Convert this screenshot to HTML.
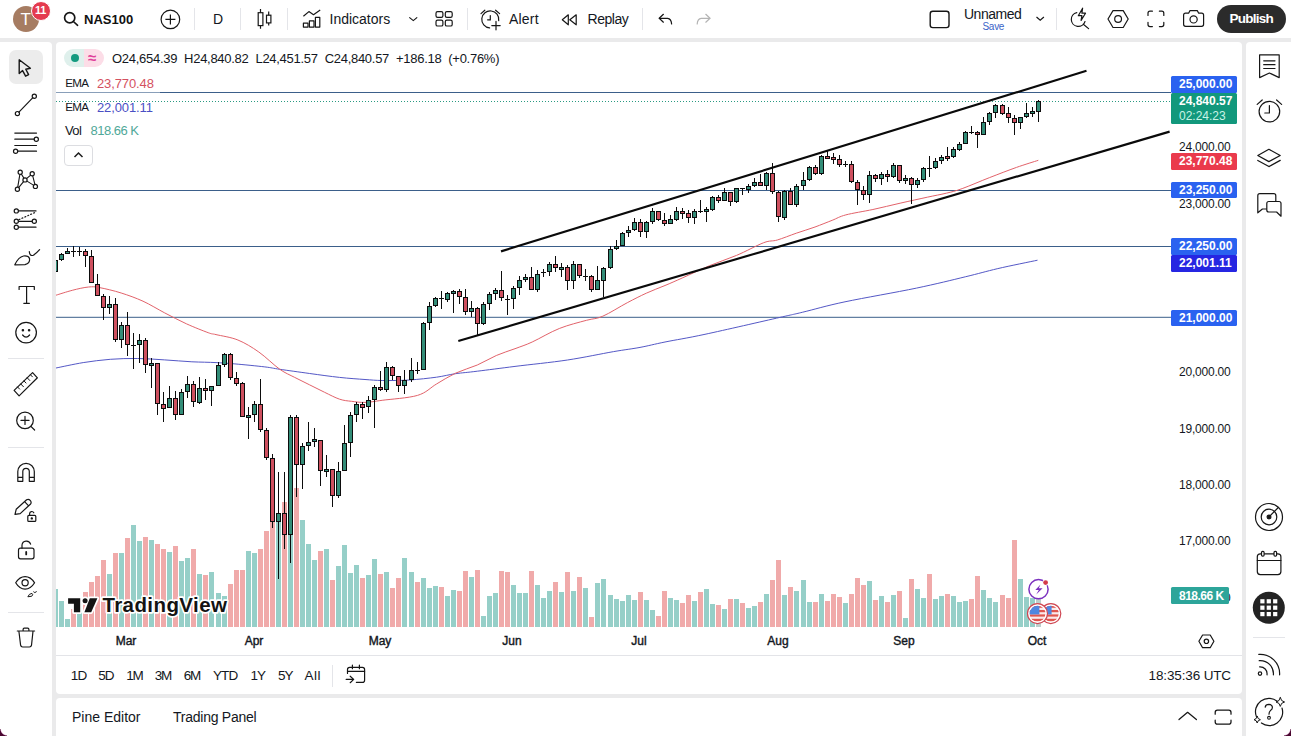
<!DOCTYPE html>
<html lang="en"><head><meta charset="utf-8"><title>NAS100 chart</title>
<style>
*{box-sizing:border-box;margin:0;padding:0}
html,body{width:1291px;height:736px;overflow:hidden}
body{background:#eaeaeb;font-family:"Liberation Sans","DejaVu Sans",sans-serif;color:#131722;position:relative;font-size:13px}
.abs{position:absolute}
.panel{position:absolute;background:#fff}
#top{left:0;top:0;width:1291px;height:38px}
#left{left:0;top:42px;width:52px;height:694px;border-top-right-radius:4px}
#main{left:56px;top:42px;width:1186px;height:652px;border-radius:4px}
#bottom{left:56px;top:698px;width:1186px;height:38px;border-radius:4px 4px 0 0}
#right{left:1246px;top:42px;width:45px;height:694px;border-top-left-radius:4px}
svg.chart{position:absolute;left:0;top:0}
.t{position:absolute;white-space:nowrap;line-height:1}
.sep{position:absolute;width:1px;background:#e4e5e9;top:8px;height:22px}
.ico{position:absolute;overflow:visible}
.ico *{vector-effect:none}
.lbl{position:absolute;left:1171px;width:66px;height:16.4px;border-radius:1.5px;color:#fff;font-weight:bold;font-size:12px;line-height:16.4px;padding-left:8px;white-space:nowrap}
.px{position:absolute;left:1179px;font-size:12px;letter-spacing:-0.22px;line-height:1;white-space:nowrap;color:#131722}
.mon{position:absolute;top:633.8px;font-size:12px;font-weight:normal;-webkit-text-stroke:0.4px #131722;line-height:14px;white-space:nowrap;transform:translateX(-50%);color:#131722}
.rng{position:absolute;top:668.6px;font-size:13.5px;letter-spacing:-0.9px;line-height:14px;white-space:nowrap;color:#131722}
</style></head><body>
<div class="panel" id="top"></div>
<div class="panel" id="left"></div>
<div class="panel" id="main"></div>
<div class="panel" id="bottom"></div>
<div class="panel" id="right"></div>
<svg class="chart" width="1291" height="736" viewBox="0 0 1291 736">
<defs><clipPath id="cp"><rect x="56" y="42" width="1114.5" height="590"/></clipPath></defs>
<g clip-path="url(#cp)">
<rect x="53" y="589" width="5" height="38" fill="#96cfc8"/>
<rect x="59" y="601" width="5" height="26" fill="#96cfc8"/>
<rect x="65" y="619" width="5" height="8" fill="#96cfc8"/>
<rect x="71" y="609" width="5" height="18" fill="#f0aaaa"/>
<rect x="77" y="602" width="5" height="25" fill="#96cfc8"/>
<rect x="83" y="592" width="5" height="35" fill="#f0aaaa"/>
<rect x="89" y="582" width="5" height="45" fill="#f0aaaa"/>
<rect x="95" y="576" width="5" height="51" fill="#f0aaaa"/>
<rect x="101" y="560" width="5" height="67" fill="#f0aaaa"/>
<rect x="107" y="574" width="5" height="53" fill="#96cfc8"/>
<rect x="113" y="553" width="5" height="74" fill="#f0aaaa"/>
<rect x="119" y="553" width="5" height="74" fill="#96cfc8"/>
<rect x="125" y="538" width="5" height="89" fill="#f0aaaa"/>
<rect x="131" y="525" width="5" height="102" fill="#96cfc8"/>
<rect x="137" y="541" width="5" height="86" fill="#96cfc8"/>
<rect x="143" y="537" width="5" height="90" fill="#f0aaaa"/>
<rect x="149" y="540" width="5" height="87" fill="#96cfc8"/>
<rect x="155" y="544" width="5" height="83" fill="#f0aaaa"/>
<rect x="161" y="549" width="5" height="78" fill="#f0aaaa"/>
<rect x="167" y="552" width="5" height="75" fill="#96cfc8"/>
<rect x="173" y="546" width="5" height="81" fill="#f0aaaa"/>
<rect x="179" y="561" width="5" height="66" fill="#96cfc8"/>
<rect x="185" y="558" width="5" height="69" fill="#96cfc8"/>
<rect x="191" y="549" width="5" height="78" fill="#f0aaaa"/>
<rect x="197" y="574" width="5" height="53" fill="#96cfc8"/>
<rect x="203" y="575" width="5" height="52" fill="#f0aaaa"/>
<rect x="209" y="572" width="5" height="55" fill="#96cfc8"/>
<rect x="216" y="593" width="5" height="34" fill="#96cfc8"/>
<rect x="222" y="596" width="5" height="31" fill="#96cfc8"/>
<rect x="228" y="584" width="5" height="43" fill="#f0aaaa"/>
<rect x="234" y="570" width="5" height="57" fill="#f0aaaa"/>
<rect x="240" y="570" width="5" height="57" fill="#f0aaaa"/>
<rect x="246" y="551" width="5" height="76" fill="#96cfc8"/>
<rect x="252" y="553" width="5" height="74" fill="#96cfc8"/>
<rect x="258" y="549" width="5" height="78" fill="#f0aaaa"/>
<rect x="264" y="531" width="5" height="96" fill="#f0aaaa"/>
<rect x="270" y="521" width="5" height="106" fill="#f0aaaa"/>
<rect x="276" y="521" width="5" height="106" fill="#96cfc8"/>
<rect x="282" y="502" width="5" height="125" fill="#f0aaaa"/>
<rect x="288" y="495" width="5" height="132" fill="#96cfc8"/>
<rect x="294" y="488" width="5" height="139" fill="#f0aaaa"/>
<rect x="300" y="520" width="5" height="107" fill="#96cfc8"/>
<rect x="306" y="544" width="5" height="83" fill="#96cfc8"/>
<rect x="312" y="560" width="5" height="67" fill="#96cfc8"/>
<rect x="318" y="551" width="5" height="76" fill="#f0aaaa"/>
<rect x="324" y="549" width="5" height="78" fill="#96cfc8"/>
<rect x="330" y="580" width="5" height="47" fill="#f0aaaa"/>
<rect x="336" y="566" width="5" height="61" fill="#96cfc8"/>
<rect x="342" y="545" width="5" height="82" fill="#96cfc8"/>
<rect x="348" y="573" width="5" height="54" fill="#96cfc8"/>
<rect x="354" y="565" width="5" height="62" fill="#96cfc8"/>
<rect x="360" y="578" width="5" height="49" fill="#f0aaaa"/>
<rect x="366" y="575" width="5" height="52" fill="#96cfc8"/>
<rect x="372" y="559" width="5" height="68" fill="#96cfc8"/>
<rect x="378" y="574" width="5" height="53" fill="#f0aaaa"/>
<rect x="384" y="572" width="5" height="55" fill="#96cfc8"/>
<rect x="390" y="588" width="5" height="39" fill="#f0aaaa"/>
<rect x="396" y="578" width="5" height="49" fill="#f0aaaa"/>
<rect x="402" y="558" width="5" height="69" fill="#96cfc8"/>
<rect x="409" y="572" width="5" height="55" fill="#96cfc8"/>
<rect x="415" y="582" width="5" height="45" fill="#f0aaaa"/>
<rect x="421" y="578" width="5" height="49" fill="#96cfc8"/>
<rect x="427" y="588" width="5" height="39" fill="#96cfc8"/>
<rect x="433" y="586" width="5" height="41" fill="#96cfc8"/>
<rect x="439" y="587" width="5" height="40" fill="#f0aaaa"/>
<rect x="445" y="596" width="5" height="31" fill="#96cfc8"/>
<rect x="451" y="590" width="5" height="37" fill="#96cfc8"/>
<rect x="457" y="591" width="5" height="36" fill="#f0aaaa"/>
<rect x="463" y="571" width="5" height="56" fill="#f0aaaa"/>
<rect x="469" y="577" width="5" height="50" fill="#96cfc8"/>
<rect x="475" y="570" width="5" height="57" fill="#f0aaaa"/>
<rect x="481" y="616" width="5" height="11" fill="#96cfc8"/>
<rect x="487" y="596" width="5" height="31" fill="#96cfc8"/>
<rect x="493" y="593" width="5" height="34" fill="#96cfc8"/>
<rect x="499" y="571" width="5" height="56" fill="#f0aaaa"/>
<rect x="505" y="572" width="5" height="55" fill="#f0aaaa"/>
<rect x="511" y="585" width="5" height="42" fill="#96cfc8"/>
<rect x="517" y="593" width="5" height="34" fill="#96cfc8"/>
<rect x="523" y="593" width="5" height="34" fill="#96cfc8"/>
<rect x="529" y="571" width="5" height="56" fill="#f0aaaa"/>
<rect x="535" y="585" width="5" height="42" fill="#96cfc8"/>
<rect x="541" y="598" width="5" height="29" fill="#96cfc8"/>
<rect x="547" y="591" width="5" height="36" fill="#96cfc8"/>
<rect x="553" y="582" width="5" height="45" fill="#f0aaaa"/>
<rect x="559" y="592" width="5" height="35" fill="#96cfc8"/>
<rect x="565" y="572" width="5" height="55" fill="#f0aaaa"/>
<rect x="571" y="591" width="5" height="36" fill="#96cfc8"/>
<rect x="577" y="577" width="5" height="50" fill="#f0aaaa"/>
<rect x="583" y="588" width="5" height="39" fill="#96cfc8"/>
<rect x="589" y="617" width="5" height="10" fill="#f0aaaa"/>
<rect x="595" y="583" width="5" height="44" fill="#96cfc8"/>
<rect x="601" y="579" width="5" height="48" fill="#96cfc8"/>
<rect x="608" y="595" width="5" height="32" fill="#96cfc8"/>
<rect x="614" y="599" width="5" height="28" fill="#96cfc8"/>
<rect x="620" y="601" width="5" height="26" fill="#96cfc8"/>
<rect x="626" y="595" width="5" height="32" fill="#96cfc8"/>
<rect x="632" y="600" width="5" height="27" fill="#96cfc8"/>
<rect x="638" y="592" width="5" height="35" fill="#f0aaaa"/>
<rect x="644" y="600" width="5" height="27" fill="#96cfc8"/>
<rect x="650" y="610" width="5" height="17" fill="#96cfc8"/>
<rect x="656" y="616" width="5" height="11" fill="#f0aaaa"/>
<rect x="662" y="591" width="5" height="36" fill="#f0aaaa"/>
<rect x="668" y="598" width="5" height="29" fill="#96cfc8"/>
<rect x="674" y="600" width="5" height="27" fill="#96cfc8"/>
<rect x="680" y="603" width="5" height="24" fill="#f0aaaa"/>
<rect x="686" y="595" width="5" height="32" fill="#f0aaaa"/>
<rect x="692" y="601" width="5" height="26" fill="#96cfc8"/>
<rect x="698" y="592" width="5" height="35" fill="#f0aaaa"/>
<rect x="704" y="589" width="5" height="38" fill="#96cfc8"/>
<rect x="710" y="604" width="5" height="23" fill="#96cfc8"/>
<rect x="716" y="605" width="5" height="22" fill="#f0aaaa"/>
<rect x="722" y="609" width="5" height="18" fill="#96cfc8"/>
<rect x="728" y="599" width="5" height="28" fill="#f0aaaa"/>
<rect x="734" y="599" width="5" height="28" fill="#96cfc8"/>
<rect x="740" y="603" width="5" height="24" fill="#f0aaaa"/>
<rect x="746" y="608" width="5" height="19" fill="#96cfc8"/>
<rect x="752" y="606" width="5" height="21" fill="#96cfc8"/>
<rect x="758" y="602" width="5" height="25" fill="#f0aaaa"/>
<rect x="764" y="594" width="5" height="33" fill="#96cfc8"/>
<rect x="770" y="580" width="5" height="47" fill="#f0aaaa"/>
<rect x="776" y="560" width="5" height="67" fill="#f0aaaa"/>
<rect x="782" y="595" width="5" height="32" fill="#96cfc8"/>
<rect x="788" y="587" width="5" height="40" fill="#f0aaaa"/>
<rect x="794" y="591" width="5" height="36" fill="#96cfc8"/>
<rect x="801" y="580" width="5" height="47" fill="#96cfc8"/>
<rect x="807" y="602" width="5" height="25" fill="#96cfc8"/>
<rect x="813" y="602" width="5" height="25" fill="#f0aaaa"/>
<rect x="819" y="594" width="5" height="33" fill="#96cfc8"/>
<rect x="825" y="601" width="5" height="26" fill="#f0aaaa"/>
<rect x="831" y="594" width="5" height="33" fill="#f0aaaa"/>
<rect x="837" y="597" width="5" height="30" fill="#f0aaaa"/>
<rect x="843" y="603" width="5" height="24" fill="#96cfc8"/>
<rect x="849" y="594" width="5" height="33" fill="#f0aaaa"/>
<rect x="855" y="578" width="5" height="49" fill="#f0aaaa"/>
<rect x="861" y="585" width="5" height="42" fill="#f0aaaa"/>
<rect x="867" y="581" width="5" height="46" fill="#96cfc8"/>
<rect x="873" y="600" width="5" height="27" fill="#f0aaaa"/>
<rect x="879" y="596" width="5" height="31" fill="#96cfc8"/>
<rect x="885" y="602" width="5" height="25" fill="#f0aaaa"/>
<rect x="891" y="595" width="5" height="32" fill="#96cfc8"/>
<rect x="897" y="591" width="5" height="36" fill="#f0aaaa"/>
<rect x="903" y="618" width="5" height="9" fill="#96cfc8"/>
<rect x="909" y="579" width="5" height="48" fill="#f0aaaa"/>
<rect x="915" y="589" width="5" height="38" fill="#96cfc8"/>
<rect x="921" y="598" width="5" height="29" fill="#96cfc8"/>
<rect x="927" y="574" width="5" height="53" fill="#f0aaaa"/>
<rect x="933" y="599" width="5" height="28" fill="#96cfc8"/>
<rect x="939" y="596" width="5" height="31" fill="#96cfc8"/>
<rect x="945" y="594" width="5" height="33" fill="#f0aaaa"/>
<rect x="951" y="596" width="5" height="31" fill="#96cfc8"/>
<rect x="957" y="602" width="5" height="25" fill="#96cfc8"/>
<rect x="963" y="601" width="5" height="26" fill="#96cfc8"/>
<rect x="969" y="599" width="5" height="28" fill="#f0aaaa"/>
<rect x="975" y="576" width="5" height="51" fill="#f0aaaa"/>
<rect x="981" y="590" width="5" height="37" fill="#96cfc8"/>
<rect x="987" y="598" width="5" height="29" fill="#96cfc8"/>
<rect x="993" y="602" width="5" height="25" fill="#96cfc8"/>
<rect x="1000" y="595" width="5" height="32" fill="#f0aaaa"/>
<rect x="1006" y="598" width="5" height="29" fill="#f0aaaa"/>
<rect x="1012" y="540" width="5" height="87" fill="#f0aaaa"/>
<rect x="1018" y="579" width="5" height="48" fill="#96cfc8"/>
<rect x="1024" y="597" width="5" height="30" fill="#96cfc8"/>
<rect x="1030" y="598" width="5" height="29" fill="#96cfc8"/>
<rect x="1036" y="596" width="5" height="31" fill="#bccfcc"/>
</g>
<line x1="56" x2="1171" y1="92.5" y2="92.5" stroke="#3b5f8a" stroke-width="1"/>
<line x1="56" x2="1171" y1="190.5" y2="190.5" stroke="#3b5f8a" stroke-width="1"/>
<line x1="56" x2="1171" y1="246.5" y2="246.5" stroke="#3b5f8a" stroke-width="1"/>
<line x1="56" x2="1171" y1="317.3" y2="317.3" stroke="#3b5f8a" stroke-width="1"/>
<line x1="56" x2="1171" y1="101.5" y2="101.5" stroke="#2a9a82" stroke-width="1" stroke-dasharray="1 2"/>
<path d="M56.0 368.0 C60.5 367.1 74.2 364.1 83.2 362.6 C92.2 361.2 101.2 360.0 110.3 359.3 C119.3 358.6 128.4 358.4 137.5 358.5 C146.6 358.6 155.6 359.3 164.7 359.9 C173.8 360.4 183.3 361.4 191.9 361.8 C200.5 362.2 208.8 362.2 216.0 362.6 C223.2 363.0 226.8 363.2 234.9 363.9 C243.0 364.6 257.3 366.0 264.8 366.9 C272.3 367.8 272.3 368.2 279.8 369.3 C287.3 370.4 299.7 372.1 309.7 373.5 C319.7 374.9 330.4 376.4 339.6 377.4 C348.8 378.4 357.9 379.0 365.0 379.5 C372.1 380.0 374.8 380.4 382.2 380.5 C389.6 380.6 400.2 380.6 409.3 380.0 C418.4 379.4 428.8 378.2 436.5 377.2 C444.2 376.1 448.7 374.7 455.5 373.7 C462.3 372.7 467.4 372.5 477.3 371.2 C487.2 370.0 500.0 368.3 515.0 366.4 C530.0 364.5 551.0 362.5 567.5 360.0 C584.0 357.5 601.6 353.7 613.7 351.6 C625.8 349.5 631.5 349.0 640.0 347.4 C648.5 345.8 654.2 344.2 665.0 342.0 C675.8 339.8 685.9 338.4 705.0 334.3 C724.1 330.2 763.6 321.1 779.9 317.4 C796.2 313.7 791.9 314.8 802.7 312.2 C813.6 309.6 826.0 305.8 845.0 301.8 C864.0 297.8 896.5 292.3 916.5 288.1 C936.5 283.9 951.8 280.1 965.3 276.8 C978.8 273.6 985.8 271.4 997.8 268.6 C1009.8 265.8 1030.9 261.6 1037.5 260.2" fill="none" stroke="#5458c6" stroke-width="1" stroke-linejoin="round"/>
<path d="M56.0 295.2 C58.7 294.4 66.9 291.7 72.3 290.3 C77.7 288.9 84.1 287.4 88.6 287.0 C93.1 286.6 94.1 286.6 99.5 287.6 C104.9 288.6 114.0 290.7 121.2 293.0 C128.4 295.3 135.8 297.9 143.0 301.2 C150.2 304.5 157.5 309.1 164.7 312.9 C171.9 316.7 179.2 320.4 186.4 323.8 C193.7 327.1 203.3 330.9 208.2 332.7 C213.1 334.5 211.1 333.4 216.0 334.6 C220.9 335.8 230.8 337.1 237.9 340.0 C245.0 342.9 251.8 347.1 258.8 352.0 C265.8 356.9 273.8 365.1 279.8 369.3 C285.8 373.5 289.7 374.8 294.7 377.4 C299.7 380.0 304.7 382.4 309.7 384.9 C314.7 387.4 319.6 389.9 324.6 392.3 C329.6 394.7 335.1 397.7 339.6 399.2 C344.1 400.7 347.3 400.8 351.5 401.3 C355.7 401.8 359.9 402.6 365.0 402.4 C370.1 402.2 373.4 401.5 382.2 400.3 C390.9 399.1 408.4 398.1 417.5 395.4 C426.6 392.7 430.2 387.7 436.5 384.0 C442.8 380.3 448.7 376.4 455.5 373.2 C462.3 370.0 470.5 367.9 477.3 365.0 C484.1 362.1 490.0 358.2 496.3 355.5 C502.6 352.8 509.0 350.9 515.0 348.7 C521.0 346.4 524.8 345.4 532.2 342.0 C539.6 338.6 550.2 332.1 559.3 328.5 C568.3 324.9 579.2 322.3 586.5 320.3 C593.8 318.3 596.0 319.2 602.8 316.2 C609.6 313.3 620.0 306.5 627.3 302.7 C634.5 298.9 640.0 296.1 646.3 293.2 C652.6 290.3 659.0 288.0 665.0 285.5 C671.0 283.0 674.8 281.3 682.2 278.0 C689.6 274.7 700.2 269.6 709.3 265.8 C718.3 262.0 727.4 259.2 736.5 255.4 C745.6 251.6 756.9 245.3 763.7 242.7 C770.5 240.1 771.9 241.6 777.3 240.0 C782.7 238.4 790.0 235.4 796.3 233.2 C802.6 231.0 809.0 229.2 815.0 227.0 C821.0 224.8 827.1 222.3 832.2 220.3 C837.3 218.3 839.0 216.7 845.8 214.9 C852.6 213.1 863.8 211.4 872.9 209.5 C882.0 207.6 891.0 205.2 900.1 203.2 C909.2 201.1 919.6 198.9 927.3 197.2 C935.0 195.5 940.5 194.6 946.3 193.2 C952.1 191.8 955.0 191.2 962.2 188.6 C969.4 186.0 980.2 181.2 989.3 177.7 C998.3 174.2 1008.3 170.3 1016.5 167.4 C1024.7 164.5 1034.7 161.5 1038.3 160.3" fill="none" stroke="#e2626a" stroke-width="1" stroke-linejoin="round"/>
<g clip-path="url(#cp)">
<rect x="55" y="260" width="1" height="12" fill="#0c0c0c"/>
<rect x="53" y="260" width="5" height="12" fill="#0c0c0c"/>
<rect x="54" y="261" width="3" height="10" fill="#338d78"/>
<rect x="61" y="253" width="1" height="8" fill="#0c0c0c"/>
<rect x="59" y="254" width="5" height="6" fill="#0c0c0c"/>
<rect x="60" y="255" width="3" height="4" fill="#338d78"/>
<rect x="67" y="248" width="1" height="6" fill="#0c0c0c"/>
<rect x="65" y="251" width="5" height="3" fill="#0c0c0c"/>
<rect x="66" y="252" width="3" height="1" fill="#338d78"/>
<rect x="73" y="246" width="1" height="11" fill="#0c0c0c"/>
<rect x="71" y="251" width="5" height="1" fill="#0c0c0c"/>
<rect x="79" y="247" width="1" height="9" fill="#0c0c0c"/>
<rect x="77" y="251" width="5" height="1" fill="#0c0c0c"/>
<rect x="85" y="249" width="1" height="18" fill="#0c0c0c"/>
<rect x="83" y="251" width="5" height="5" fill="#0c0c0c"/>
<rect x="84" y="252" width="3" height="3" fill="#ce505f"/>
<rect x="91" y="250" width="1" height="33" fill="#0c0c0c"/>
<rect x="89" y="256" width="5" height="27" fill="#0c0c0c"/>
<rect x="90" y="257" width="3" height="25" fill="#ce505f"/>
<rect x="97" y="274" width="1" height="22" fill="#0c0c0c"/>
<rect x="95" y="284" width="5" height="12" fill="#0c0c0c"/>
<rect x="96" y="285" width="3" height="10" fill="#ce505f"/>
<rect x="103" y="294" width="1" height="26" fill="#0c0c0c"/>
<rect x="101" y="296" width="5" height="12" fill="#0c0c0c"/>
<rect x="102" y="297" width="3" height="10" fill="#ce505f"/>
<rect x="109" y="296" width="1" height="18" fill="#0c0c0c"/>
<rect x="107" y="304" width="5" height="4" fill="#0c0c0c"/>
<rect x="108" y="305" width="3" height="2" fill="#338d78"/>
<rect x="115" y="298" width="1" height="44" fill="#0c0c0c"/>
<rect x="113" y="304" width="5" height="36" fill="#0c0c0c"/>
<rect x="114" y="305" width="3" height="34" fill="#ce505f"/>
<rect x="121" y="322" width="1" height="26" fill="#0c0c0c"/>
<rect x="119" y="325" width="5" height="15" fill="#0c0c0c"/>
<rect x="120" y="326" width="3" height="13" fill="#338d78"/>
<rect x="127" y="312" width="1" height="44" fill="#0c0c0c"/>
<rect x="125" y="325" width="5" height="20" fill="#0c0c0c"/>
<rect x="126" y="326" width="3" height="18" fill="#ce505f"/>
<rect x="133" y="333" width="1" height="36" fill="#0c0c0c"/>
<rect x="131" y="345" width="5" height="1" fill="#0c0c0c"/>
<rect x="139" y="334" width="1" height="29" fill="#0c0c0c"/>
<rect x="137" y="340" width="5" height="5" fill="#0c0c0c"/>
<rect x="138" y="341" width="3" height="3" fill="#338d78"/>
<rect x="145" y="338" width="1" height="35" fill="#0c0c0c"/>
<rect x="143" y="340" width="5" height="25" fill="#0c0c0c"/>
<rect x="144" y="341" width="3" height="23" fill="#ce505f"/>
<rect x="151" y="358" width="1" height="30" fill="#0c0c0c"/>
<rect x="149" y="363" width="5" height="3" fill="#0c0c0c"/>
<rect x="150" y="364" width="3" height="1" fill="#338d78"/>
<rect x="157" y="363" width="1" height="52" fill="#0c0c0c"/>
<rect x="155" y="363" width="5" height="41" fill="#0c0c0c"/>
<rect x="156" y="364" width="3" height="39" fill="#ce505f"/>
<rect x="163" y="392" width="1" height="30" fill="#0c0c0c"/>
<rect x="161" y="404" width="5" height="5" fill="#0c0c0c"/>
<rect x="162" y="405" width="3" height="3" fill="#ce505f"/>
<rect x="169" y="386" width="1" height="22" fill="#0c0c0c"/>
<rect x="167" y="398" width="5" height="10" fill="#0c0c0c"/>
<rect x="168" y="399" width="3" height="8" fill="#338d78"/>
<rect x="175" y="391" width="1" height="29" fill="#0c0c0c"/>
<rect x="173" y="398" width="5" height="17" fill="#0c0c0c"/>
<rect x="174" y="399" width="3" height="15" fill="#ce505f"/>
<rect x="181" y="389" width="1" height="26" fill="#0c0c0c"/>
<rect x="179" y="392" width="5" height="23" fill="#0c0c0c"/>
<rect x="180" y="393" width="3" height="21" fill="#338d78"/>
<rect x="187" y="376" width="1" height="22" fill="#0c0c0c"/>
<rect x="185" y="384" width="5" height="8" fill="#0c0c0c"/>
<rect x="186" y="385" width="3" height="6" fill="#338d78"/>
<rect x="193" y="381" width="1" height="26" fill="#0c0c0c"/>
<rect x="191" y="384" width="5" height="18" fill="#0c0c0c"/>
<rect x="192" y="385" width="3" height="16" fill="#ce505f"/>
<rect x="199" y="377" width="1" height="27" fill="#0c0c0c"/>
<rect x="197" y="388" width="5" height="15" fill="#0c0c0c"/>
<rect x="198" y="389" width="3" height="13" fill="#338d78"/>
<rect x="205" y="379" width="1" height="21" fill="#0c0c0c"/>
<rect x="203" y="388" width="5" height="3" fill="#0c0c0c"/>
<rect x="204" y="389" width="3" height="1" fill="#ce505f"/>
<rect x="211" y="386" width="1" height="20" fill="#0c0c0c"/>
<rect x="209" y="386" width="5" height="5" fill="#0c0c0c"/>
<rect x="210" y="387" width="3" height="3" fill="#338d78"/>
<rect x="218" y="362" width="1" height="24" fill="#0c0c0c"/>
<rect x="216" y="365" width="5" height="21" fill="#0c0c0c"/>
<rect x="217" y="366" width="3" height="19" fill="#338d78"/>
<rect x="224" y="353" width="1" height="14" fill="#0c0c0c"/>
<rect x="222" y="354" width="5" height="11" fill="#0c0c0c"/>
<rect x="223" y="355" width="3" height="9" fill="#338d78"/>
<rect x="230" y="353" width="1" height="27" fill="#0c0c0c"/>
<rect x="228" y="354" width="5" height="24" fill="#0c0c0c"/>
<rect x="229" y="355" width="3" height="22" fill="#ce505f"/>
<rect x="236" y="372" width="1" height="14" fill="#0c0c0c"/>
<rect x="234" y="378" width="5" height="6" fill="#0c0c0c"/>
<rect x="235" y="379" width="3" height="4" fill="#ce505f"/>
<rect x="242" y="382" width="1" height="35" fill="#0c0c0c"/>
<rect x="240" y="383" width="5" height="34" fill="#0c0c0c"/>
<rect x="241" y="384" width="3" height="32" fill="#ce505f"/>
<rect x="248" y="407" width="1" height="32" fill="#0c0c0c"/>
<rect x="246" y="415" width="5" height="3" fill="#0c0c0c"/>
<rect x="247" y="416" width="3" height="1" fill="#338d78"/>
<rect x="254" y="401" width="1" height="21" fill="#0c0c0c"/>
<rect x="252" y="404" width="5" height="11" fill="#0c0c0c"/>
<rect x="253" y="405" width="3" height="9" fill="#338d78"/>
<rect x="260" y="379" width="1" height="53" fill="#0c0c0c"/>
<rect x="258" y="404" width="5" height="26" fill="#0c0c0c"/>
<rect x="259" y="405" width="3" height="24" fill="#ce505f"/>
<rect x="266" y="428" width="1" height="32" fill="#0c0c0c"/>
<rect x="264" y="430" width="5" height="28" fill="#0c0c0c"/>
<rect x="265" y="431" width="3" height="26" fill="#ce505f"/>
<rect x="272" y="454" width="1" height="74" fill="#0c0c0c"/>
<rect x="270" y="458" width="5" height="64" fill="#0c0c0c"/>
<rect x="271" y="459" width="3" height="62" fill="#ce505f"/>
<rect x="278" y="472" width="1" height="107" fill="#0c0c0c"/>
<rect x="276" y="513" width="5" height="9" fill="#0c0c0c"/>
<rect x="277" y="514" width="3" height="7" fill="#338d78"/>
<rect x="284" y="472" width="1" height="77" fill="#0c0c0c"/>
<rect x="282" y="513" width="5" height="22" fill="#0c0c0c"/>
<rect x="283" y="514" width="3" height="20" fill="#ce505f"/>
<rect x="290" y="415" width="1" height="148" fill="#0c0c0c"/>
<rect x="288" y="417" width="5" height="118" fill="#0c0c0c"/>
<rect x="289" y="418" width="3" height="116" fill="#338d78"/>
<rect x="296" y="415" width="1" height="82" fill="#0c0c0c"/>
<rect x="294" y="417" width="5" height="48" fill="#0c0c0c"/>
<rect x="295" y="418" width="3" height="46" fill="#ce505f"/>
<rect x="302" y="443" width="1" height="46" fill="#0c0c0c"/>
<rect x="300" y="446" width="5" height="19" fill="#0c0c0c"/>
<rect x="301" y="447" width="3" height="17" fill="#338d78"/>
<rect x="308" y="422" width="1" height="29" fill="#0c0c0c"/>
<rect x="306" y="442" width="5" height="4" fill="#0c0c0c"/>
<rect x="307" y="443" width="3" height="2" fill="#338d78"/>
<rect x="314" y="428" width="1" height="19" fill="#0c0c0c"/>
<rect x="312" y="439" width="5" height="3" fill="#0c0c0c"/>
<rect x="313" y="440" width="3" height="1" fill="#338d78"/>
<rect x="320" y="440" width="1" height="46" fill="#0c0c0c"/>
<rect x="318" y="440" width="5" height="31" fill="#0c0c0c"/>
<rect x="319" y="441" width="3" height="29" fill="#ce505f"/>
<rect x="326" y="455" width="1" height="22" fill="#0c0c0c"/>
<rect x="324" y="469" width="5" height="3" fill="#0c0c0c"/>
<rect x="325" y="470" width="3" height="1" fill="#338d78"/>
<rect x="332" y="469" width="1" height="38" fill="#0c0c0c"/>
<rect x="330" y="469" width="5" height="27" fill="#0c0c0c"/>
<rect x="331" y="470" width="3" height="25" fill="#ce505f"/>
<rect x="338" y="462" width="1" height="36" fill="#0c0c0c"/>
<rect x="336" y="471" width="5" height="25" fill="#0c0c0c"/>
<rect x="337" y="472" width="3" height="23" fill="#338d78"/>
<rect x="344" y="425" width="1" height="46" fill="#0c0c0c"/>
<rect x="342" y="443" width="5" height="28" fill="#0c0c0c"/>
<rect x="343" y="444" width="3" height="26" fill="#338d78"/>
<rect x="350" y="412" width="1" height="45" fill="#0c0c0c"/>
<rect x="348" y="415" width="5" height="28" fill="#0c0c0c"/>
<rect x="349" y="416" width="3" height="26" fill="#338d78"/>
<rect x="356" y="402" width="1" height="20" fill="#0c0c0c"/>
<rect x="354" y="404" width="5" height="11" fill="#0c0c0c"/>
<rect x="355" y="405" width="3" height="9" fill="#338d78"/>
<rect x="362" y="402" width="1" height="17" fill="#0c0c0c"/>
<rect x="360" y="404" width="5" height="4" fill="#0c0c0c"/>
<rect x="361" y="405" width="3" height="2" fill="#ce505f"/>
<rect x="368" y="396" width="1" height="17" fill="#0c0c0c"/>
<rect x="366" y="400" width="5" height="7" fill="#0c0c0c"/>
<rect x="367" y="401" width="3" height="5" fill="#338d78"/>
<rect x="374" y="385" width="1" height="43" fill="#0c0c0c"/>
<rect x="372" y="387" width="5" height="13" fill="#0c0c0c"/>
<rect x="373" y="388" width="3" height="11" fill="#338d78"/>
<rect x="380" y="371" width="1" height="20" fill="#0c0c0c"/>
<rect x="378" y="387" width="5" height="3" fill="#0c0c0c"/>
<rect x="379" y="388" width="3" height="1" fill="#ce505f"/>
<rect x="386" y="362" width="1" height="30" fill="#0c0c0c"/>
<rect x="384" y="367" width="5" height="23" fill="#0c0c0c"/>
<rect x="385" y="368" width="3" height="21" fill="#338d78"/>
<rect x="392" y="366" width="1" height="14" fill="#0c0c0c"/>
<rect x="390" y="367" width="5" height="9" fill="#0c0c0c"/>
<rect x="391" y="368" width="3" height="7" fill="#ce505f"/>
<rect x="398" y="376" width="1" height="16" fill="#0c0c0c"/>
<rect x="396" y="376" width="5" height="10" fill="#0c0c0c"/>
<rect x="397" y="377" width="3" height="8" fill="#ce505f"/>
<rect x="404" y="370" width="1" height="24" fill="#0c0c0c"/>
<rect x="402" y="380" width="5" height="6" fill="#0c0c0c"/>
<rect x="403" y="381" width="3" height="4" fill="#338d78"/>
<rect x="411" y="358" width="1" height="24" fill="#0c0c0c"/>
<rect x="409" y="370" width="5" height="10" fill="#0c0c0c"/>
<rect x="410" y="371" width="3" height="8" fill="#338d78"/>
<rect x="417" y="362" width="1" height="12" fill="#0c0c0c"/>
<rect x="415" y="370" width="5" height="1" fill="#0c0c0c"/>
<rect x="423" y="322" width="1" height="48" fill="#0c0c0c"/>
<rect x="421" y="323" width="5" height="47" fill="#0c0c0c"/>
<rect x="422" y="324" width="3" height="45" fill="#338d78"/>
<rect x="429" y="302" width="1" height="28" fill="#0c0c0c"/>
<rect x="427" y="306" width="5" height="17" fill="#0c0c0c"/>
<rect x="428" y="307" width="3" height="15" fill="#338d78"/>
<rect x="435" y="297" width="1" height="10" fill="#0c0c0c"/>
<rect x="433" y="298" width="5" height="8" fill="#0c0c0c"/>
<rect x="434" y="299" width="3" height="6" fill="#338d78"/>
<rect x="441" y="291" width="1" height="18" fill="#0c0c0c"/>
<rect x="439" y="298" width="5" height="1" fill="#0c0c0c"/>
<rect x="447" y="292" width="1" height="10" fill="#0c0c0c"/>
<rect x="445" y="293" width="5" height="7" fill="#0c0c0c"/>
<rect x="446" y="294" width="3" height="5" fill="#338d78"/>
<rect x="453" y="290" width="1" height="23" fill="#0c0c0c"/>
<rect x="451" y="291" width="5" height="3" fill="#0c0c0c"/>
<rect x="452" y="292" width="3" height="1" fill="#338d78"/>
<rect x="459" y="289" width="1" height="15" fill="#0c0c0c"/>
<rect x="457" y="291" width="5" height="6" fill="#0c0c0c"/>
<rect x="458" y="292" width="3" height="4" fill="#ce505f"/>
<rect x="465" y="289" width="1" height="26" fill="#0c0c0c"/>
<rect x="463" y="297" width="5" height="15" fill="#0c0c0c"/>
<rect x="464" y="298" width="3" height="13" fill="#ce505f"/>
<rect x="471" y="301" width="1" height="16" fill="#0c0c0c"/>
<rect x="469" y="308" width="5" height="4" fill="#0c0c0c"/>
<rect x="470" y="309" width="3" height="2" fill="#338d78"/>
<rect x="477" y="307" width="1" height="28" fill="#0c0c0c"/>
<rect x="475" y="308" width="5" height="16" fill="#0c0c0c"/>
<rect x="476" y="309" width="3" height="14" fill="#ce505f"/>
<rect x="483" y="302" width="1" height="23" fill="#0c0c0c"/>
<rect x="481" y="304" width="5" height="20" fill="#0c0c0c"/>
<rect x="482" y="305" width="3" height="18" fill="#338d78"/>
<rect x="489" y="292" width="1" height="18" fill="#0c0c0c"/>
<rect x="487" y="294" width="5" height="10" fill="#0c0c0c"/>
<rect x="488" y="295" width="3" height="8" fill="#338d78"/>
<rect x="495" y="288" width="1" height="12" fill="#0c0c0c"/>
<rect x="493" y="290" width="5" height="4" fill="#0c0c0c"/>
<rect x="494" y="291" width="3" height="2" fill="#338d78"/>
<rect x="501" y="271" width="1" height="30" fill="#0c0c0c"/>
<rect x="499" y="290" width="5" height="8" fill="#0c0c0c"/>
<rect x="500" y="291" width="3" height="6" fill="#ce505f"/>
<rect x="507" y="295" width="1" height="20" fill="#0c0c0c"/>
<rect x="505" y="299" width="5" height="1" fill="#0c0c0c"/>
<rect x="513" y="286" width="1" height="23" fill="#0c0c0c"/>
<rect x="511" y="288" width="5" height="11" fill="#0c0c0c"/>
<rect x="512" y="289" width="3" height="9" fill="#338d78"/>
<rect x="519" y="276" width="1" height="19" fill="#0c0c0c"/>
<rect x="517" y="280" width="5" height="8" fill="#0c0c0c"/>
<rect x="518" y="281" width="3" height="6" fill="#338d78"/>
<rect x="525" y="274" width="1" height="8" fill="#0c0c0c"/>
<rect x="523" y="277" width="5" height="3" fill="#0c0c0c"/>
<rect x="524" y="278" width="3" height="1" fill="#338d78"/>
<rect x="531" y="267" width="1" height="23" fill="#0c0c0c"/>
<rect x="529" y="277" width="5" height="13" fill="#0c0c0c"/>
<rect x="530" y="278" width="3" height="11" fill="#ce505f"/>
<rect x="537" y="270" width="1" height="22" fill="#0c0c0c"/>
<rect x="535" y="274" width="5" height="16" fill="#0c0c0c"/>
<rect x="536" y="275" width="3" height="14" fill="#338d78"/>
<rect x="543" y="269" width="1" height="8" fill="#0c0c0c"/>
<rect x="541" y="272" width="5" height="1" fill="#0c0c0c"/>
<rect x="549" y="262" width="1" height="14" fill="#0c0c0c"/>
<rect x="547" y="264" width="5" height="8" fill="#0c0c0c"/>
<rect x="548" y="265" width="3" height="6" fill="#338d78"/>
<rect x="555" y="256" width="1" height="16" fill="#0c0c0c"/>
<rect x="553" y="264" width="5" height="4" fill="#0c0c0c"/>
<rect x="554" y="265" width="3" height="2" fill="#ce505f"/>
<rect x="561" y="263" width="1" height="14" fill="#0c0c0c"/>
<rect x="559" y="267" width="5" height="3" fill="#0c0c0c"/>
<rect x="560" y="268" width="3" height="1" fill="#338d78"/>
<rect x="567" y="265" width="1" height="25" fill="#0c0c0c"/>
<rect x="565" y="267" width="5" height="14" fill="#0c0c0c"/>
<rect x="566" y="268" width="3" height="12" fill="#ce505f"/>
<rect x="573" y="261" width="1" height="28" fill="#0c0c0c"/>
<rect x="571" y="264" width="5" height="17" fill="#0c0c0c"/>
<rect x="572" y="265" width="3" height="15" fill="#338d78"/>
<rect x="579" y="264" width="1" height="14" fill="#0c0c0c"/>
<rect x="577" y="264" width="5" height="12" fill="#0c0c0c"/>
<rect x="578" y="265" width="3" height="10" fill="#ce505f"/>
<rect x="585" y="269" width="1" height="12" fill="#0c0c0c"/>
<rect x="583" y="276" width="5" height="1" fill="#0c0c0c"/>
<rect x="591" y="275" width="1" height="17" fill="#0c0c0c"/>
<rect x="589" y="276" width="5" height="14" fill="#0c0c0c"/>
<rect x="590" y="277" width="3" height="12" fill="#ce505f"/>
<rect x="597" y="266" width="1" height="24" fill="#0c0c0c"/>
<rect x="595" y="280" width="5" height="10" fill="#0c0c0c"/>
<rect x="596" y="281" width="3" height="8" fill="#338d78"/>
<rect x="603" y="267" width="1" height="30" fill="#0c0c0c"/>
<rect x="601" y="268" width="5" height="13" fill="#0c0c0c"/>
<rect x="602" y="269" width="3" height="11" fill="#338d78"/>
<rect x="610" y="246" width="1" height="23" fill="#0c0c0c"/>
<rect x="608" y="249" width="5" height="19" fill="#0c0c0c"/>
<rect x="609" y="250" width="3" height="17" fill="#338d78"/>
<rect x="616" y="240" width="1" height="10" fill="#0c0c0c"/>
<rect x="614" y="246" width="5" height="3" fill="#0c0c0c"/>
<rect x="615" y="247" width="3" height="1" fill="#338d78"/>
<rect x="622" y="232" width="1" height="14" fill="#0c0c0c"/>
<rect x="620" y="233" width="5" height="13" fill="#0c0c0c"/>
<rect x="621" y="234" width="3" height="11" fill="#338d78"/>
<rect x="628" y="226" width="1" height="11" fill="#0c0c0c"/>
<rect x="626" y="230" width="5" height="3" fill="#0c0c0c"/>
<rect x="627" y="231" width="3" height="1" fill="#338d78"/>
<rect x="634" y="218" width="1" height="13" fill="#0c0c0c"/>
<rect x="632" y="222" width="5" height="8" fill="#0c0c0c"/>
<rect x="633" y="223" width="3" height="6" fill="#338d78"/>
<rect x="640" y="219" width="1" height="18" fill="#0c0c0c"/>
<rect x="638" y="222" width="5" height="10" fill="#0c0c0c"/>
<rect x="639" y="223" width="3" height="8" fill="#ce505f"/>
<rect x="646" y="221" width="1" height="17" fill="#0c0c0c"/>
<rect x="644" y="222" width="5" height="10" fill="#0c0c0c"/>
<rect x="645" y="223" width="3" height="8" fill="#338d78"/>
<rect x="652" y="208" width="1" height="16" fill="#0c0c0c"/>
<rect x="650" y="211" width="5" height="11" fill="#0c0c0c"/>
<rect x="651" y="212" width="3" height="9" fill="#338d78"/>
<rect x="658" y="211" width="1" height="10" fill="#0c0c0c"/>
<rect x="656" y="211" width="5" height="9" fill="#0c0c0c"/>
<rect x="657" y="212" width="3" height="7" fill="#ce505f"/>
<rect x="664" y="213" width="1" height="13" fill="#0c0c0c"/>
<rect x="662" y="220" width="5" height="4" fill="#0c0c0c"/>
<rect x="663" y="221" width="3" height="2" fill="#ce505f"/>
<rect x="670" y="215" width="1" height="9" fill="#0c0c0c"/>
<rect x="668" y="219" width="5" height="5" fill="#0c0c0c"/>
<rect x="669" y="220" width="3" height="3" fill="#338d78"/>
<rect x="676" y="207" width="1" height="14" fill="#0c0c0c"/>
<rect x="674" y="211" width="5" height="9" fill="#0c0c0c"/>
<rect x="675" y="212" width="3" height="7" fill="#338d78"/>
<rect x="682" y="208" width="1" height="11" fill="#0c0c0c"/>
<rect x="680" y="211" width="5" height="3" fill="#0c0c0c"/>
<rect x="681" y="212" width="3" height="1" fill="#ce505f"/>
<rect x="688" y="210" width="1" height="13" fill="#0c0c0c"/>
<rect x="686" y="213" width="5" height="5" fill="#0c0c0c"/>
<rect x="687" y="214" width="3" height="3" fill="#ce505f"/>
<rect x="694" y="209" width="1" height="15" fill="#0c0c0c"/>
<rect x="692" y="211" width="5" height="7" fill="#0c0c0c"/>
<rect x="693" y="212" width="3" height="5" fill="#338d78"/>
<rect x="700" y="200" width="1" height="13" fill="#0c0c0c"/>
<rect x="698" y="211" width="5" height="1" fill="#0c0c0c"/>
<rect x="706" y="207" width="1" height="15" fill="#0c0c0c"/>
<rect x="704" y="209" width="5" height="3" fill="#0c0c0c"/>
<rect x="705" y="210" width="3" height="1" fill="#338d78"/>
<rect x="712" y="196" width="1" height="15" fill="#0c0c0c"/>
<rect x="710" y="197" width="5" height="13" fill="#0c0c0c"/>
<rect x="711" y="198" width="3" height="11" fill="#338d78"/>
<rect x="718" y="195" width="1" height="8" fill="#0c0c0c"/>
<rect x="716" y="197" width="5" height="4" fill="#0c0c0c"/>
<rect x="717" y="198" width="3" height="2" fill="#ce505f"/>
<rect x="724" y="188" width="1" height="13" fill="#0c0c0c"/>
<rect x="722" y="192" width="5" height="9" fill="#0c0c0c"/>
<rect x="723" y="193" width="3" height="7" fill="#338d78"/>
<rect x="730" y="192" width="1" height="14" fill="#0c0c0c"/>
<rect x="728" y="192" width="5" height="10" fill="#0c0c0c"/>
<rect x="729" y="193" width="3" height="8" fill="#ce505f"/>
<rect x="736" y="188" width="1" height="15" fill="#0c0c0c"/>
<rect x="734" y="188" width="5" height="14" fill="#0c0c0c"/>
<rect x="735" y="189" width="3" height="12" fill="#338d78"/>
<rect x="742" y="188" width="1" height="7" fill="#0c0c0c"/>
<rect x="740" y="188" width="5" height="1" fill="#0c0c0c"/>
<rect x="748" y="184" width="1" height="9" fill="#0c0c0c"/>
<rect x="746" y="186" width="5" height="4" fill="#0c0c0c"/>
<rect x="747" y="187" width="3" height="2" fill="#338d78"/>
<rect x="754" y="178" width="1" height="9" fill="#0c0c0c"/>
<rect x="752" y="182" width="5" height="4" fill="#0c0c0c"/>
<rect x="753" y="183" width="3" height="2" fill="#338d78"/>
<rect x="760" y="174" width="1" height="12" fill="#0c0c0c"/>
<rect x="758" y="182" width="5" height="4" fill="#0c0c0c"/>
<rect x="759" y="183" width="3" height="2" fill="#ce505f"/>
<rect x="766" y="172" width="1" height="18" fill="#0c0c0c"/>
<rect x="764" y="173" width="5" height="13" fill="#0c0c0c"/>
<rect x="765" y="174" width="3" height="11" fill="#338d78"/>
<rect x="772" y="163" width="1" height="31" fill="#0c0c0c"/>
<rect x="770" y="173" width="5" height="19" fill="#0c0c0c"/>
<rect x="771" y="174" width="3" height="17" fill="#ce505f"/>
<rect x="778" y="191" width="1" height="31" fill="#0c0c0c"/>
<rect x="776" y="192" width="5" height="25" fill="#0c0c0c"/>
<rect x="777" y="193" width="3" height="23" fill="#ce505f"/>
<rect x="784" y="190" width="1" height="30" fill="#0c0c0c"/>
<rect x="782" y="191" width="5" height="27" fill="#0c0c0c"/>
<rect x="783" y="192" width="3" height="25" fill="#338d78"/>
<rect x="790" y="188" width="1" height="17" fill="#0c0c0c"/>
<rect x="788" y="191" width="5" height="14" fill="#0c0c0c"/>
<rect x="789" y="192" width="3" height="12" fill="#ce505f"/>
<rect x="796" y="184" width="1" height="23" fill="#0c0c0c"/>
<rect x="794" y="186" width="5" height="19" fill="#0c0c0c"/>
<rect x="795" y="187" width="3" height="17" fill="#338d78"/>
<rect x="803" y="172" width="1" height="18" fill="#0c0c0c"/>
<rect x="801" y="180" width="5" height="6" fill="#0c0c0c"/>
<rect x="802" y="181" width="3" height="4" fill="#338d78"/>
<rect x="809" y="166" width="1" height="15" fill="#0c0c0c"/>
<rect x="807" y="167" width="5" height="13" fill="#0c0c0c"/>
<rect x="808" y="168" width="3" height="11" fill="#338d78"/>
<rect x="815" y="165" width="1" height="10" fill="#0c0c0c"/>
<rect x="813" y="167" width="5" height="7" fill="#0c0c0c"/>
<rect x="814" y="168" width="3" height="5" fill="#ce505f"/>
<rect x="821" y="155" width="1" height="20" fill="#0c0c0c"/>
<rect x="819" y="156" width="5" height="18" fill="#0c0c0c"/>
<rect x="820" y="157" width="3" height="16" fill="#338d78"/>
<rect x="827" y="150" width="1" height="9" fill="#0c0c0c"/>
<rect x="825" y="156" width="5" height="3" fill="#0c0c0c"/>
<rect x="826" y="157" width="3" height="1" fill="#ce505f"/>
<rect x="833" y="153" width="1" height="11" fill="#0c0c0c"/>
<rect x="831" y="157" width="5" height="3" fill="#0c0c0c"/>
<rect x="832" y="158" width="3" height="1" fill="#ce505f"/>
<rect x="839" y="155" width="1" height="12" fill="#0c0c0c"/>
<rect x="837" y="159" width="5" height="6" fill="#0c0c0c"/>
<rect x="838" y="160" width="3" height="4" fill="#ce505f"/>
<rect x="845" y="161" width="1" height="6" fill="#0c0c0c"/>
<rect x="843" y="164" width="5" height="1" fill="#0c0c0c"/>
<rect x="851" y="161" width="1" height="22" fill="#0c0c0c"/>
<rect x="849" y="164" width="5" height="18" fill="#0c0c0c"/>
<rect x="850" y="165" width="3" height="16" fill="#ce505f"/>
<rect x="857" y="180" width="1" height="25" fill="#0c0c0c"/>
<rect x="855" y="182" width="5" height="8" fill="#0c0c0c"/>
<rect x="856" y="183" width="3" height="6" fill="#ce505f"/>
<rect x="863" y="186" width="1" height="14" fill="#0c0c0c"/>
<rect x="861" y="190" width="5" height="5" fill="#0c0c0c"/>
<rect x="862" y="191" width="3" height="3" fill="#ce505f"/>
<rect x="869" y="171" width="1" height="32" fill="#0c0c0c"/>
<rect x="867" y="175" width="5" height="20" fill="#0c0c0c"/>
<rect x="868" y="176" width="3" height="18" fill="#338d78"/>
<rect x="875" y="174" width="1" height="8" fill="#0c0c0c"/>
<rect x="873" y="175" width="5" height="4" fill="#0c0c0c"/>
<rect x="874" y="176" width="3" height="2" fill="#ce505f"/>
<rect x="881" y="172" width="1" height="13" fill="#0c0c0c"/>
<rect x="879" y="174" width="5" height="5" fill="#0c0c0c"/>
<rect x="880" y="175" width="3" height="3" fill="#338d78"/>
<rect x="887" y="170" width="1" height="12" fill="#0c0c0c"/>
<rect x="885" y="174" width="5" height="3" fill="#0c0c0c"/>
<rect x="886" y="175" width="3" height="1" fill="#ce505f"/>
<rect x="893" y="163" width="1" height="15" fill="#0c0c0c"/>
<rect x="891" y="165" width="5" height="12" fill="#0c0c0c"/>
<rect x="892" y="166" width="3" height="10" fill="#338d78"/>
<rect x="899" y="165" width="1" height="18" fill="#0c0c0c"/>
<rect x="897" y="165" width="5" height="16" fill="#0c0c0c"/>
<rect x="898" y="166" width="3" height="14" fill="#ce505f"/>
<rect x="905" y="175" width="1" height="9" fill="#0c0c0c"/>
<rect x="903" y="178" width="5" height="3" fill="#0c0c0c"/>
<rect x="904" y="179" width="3" height="1" fill="#338d78"/>
<rect x="911" y="177" width="1" height="27" fill="#0c0c0c"/>
<rect x="909" y="178" width="5" height="7" fill="#0c0c0c"/>
<rect x="910" y="179" width="3" height="5" fill="#ce505f"/>
<rect x="917" y="178" width="1" height="10" fill="#0c0c0c"/>
<rect x="915" y="180" width="5" height="5" fill="#0c0c0c"/>
<rect x="916" y="181" width="3" height="3" fill="#338d78"/>
<rect x="923" y="167" width="1" height="15" fill="#0c0c0c"/>
<rect x="921" y="168" width="5" height="12" fill="#0c0c0c"/>
<rect x="922" y="169" width="3" height="10" fill="#338d78"/>
<rect x="929" y="156" width="1" height="21" fill="#0c0c0c"/>
<rect x="927" y="168" width="5" height="1" fill="#0c0c0c"/>
<rect x="935" y="158" width="1" height="11" fill="#0c0c0c"/>
<rect x="933" y="161" width="5" height="7" fill="#0c0c0c"/>
<rect x="934" y="162" width="3" height="5" fill="#338d78"/>
<rect x="941" y="155" width="1" height="9" fill="#0c0c0c"/>
<rect x="939" y="157" width="5" height="4" fill="#0c0c0c"/>
<rect x="940" y="158" width="3" height="2" fill="#338d78"/>
<rect x="947" y="147" width="1" height="14" fill="#0c0c0c"/>
<rect x="945" y="156" width="5" height="3" fill="#0c0c0c"/>
<rect x="946" y="157" width="3" height="1" fill="#ce505f"/>
<rect x="953" y="147" width="1" height="11" fill="#0c0c0c"/>
<rect x="951" y="149" width="5" height="8" fill="#0c0c0c"/>
<rect x="952" y="150" width="3" height="6" fill="#338d78"/>
<rect x="959" y="142" width="1" height="9" fill="#0c0c0c"/>
<rect x="957" y="144" width="5" height="6" fill="#0c0c0c"/>
<rect x="958" y="145" width="3" height="4" fill="#338d78"/>
<rect x="965" y="131" width="1" height="13" fill="#0c0c0c"/>
<rect x="963" y="132" width="5" height="12" fill="#0c0c0c"/>
<rect x="964" y="133" width="3" height="10" fill="#338d78"/>
<rect x="971" y="126" width="1" height="8" fill="#0c0c0c"/>
<rect x="969" y="132" width="5" height="1" fill="#0c0c0c"/>
<rect x="977" y="131" width="1" height="17" fill="#0c0c0c"/>
<rect x="975" y="132" width="5" height="3" fill="#0c0c0c"/>
<rect x="976" y="133" width="3" height="1" fill="#ce505f"/>
<rect x="983" y="117" width="1" height="18" fill="#0c0c0c"/>
<rect x="981" y="122" width="5" height="13" fill="#0c0c0c"/>
<rect x="982" y="123" width="3" height="11" fill="#338d78"/>
<rect x="989" y="112" width="1" height="13" fill="#0c0c0c"/>
<rect x="987" y="113" width="5" height="9" fill="#0c0c0c"/>
<rect x="988" y="114" width="3" height="7" fill="#338d78"/>
<rect x="995" y="104" width="1" height="14" fill="#0c0c0c"/>
<rect x="993" y="105" width="5" height="8" fill="#0c0c0c"/>
<rect x="994" y="106" width="3" height="6" fill="#338d78"/>
<rect x="1002" y="104" width="1" height="11" fill="#0c0c0c"/>
<rect x="1000" y="105" width="5" height="9" fill="#0c0c0c"/>
<rect x="1001" y="106" width="3" height="7" fill="#ce505f"/>
<rect x="1008" y="107" width="1" height="16" fill="#0c0c0c"/>
<rect x="1006" y="113" width="5" height="5" fill="#0c0c0c"/>
<rect x="1007" y="114" width="3" height="3" fill="#ce505f"/>
<rect x="1014" y="115" width="1" height="20" fill="#0c0c0c"/>
<rect x="1012" y="118" width="5" height="5" fill="#0c0c0c"/>
<rect x="1013" y="119" width="3" height="3" fill="#ce505f"/>
<rect x="1020" y="117" width="1" height="12" fill="#0c0c0c"/>
<rect x="1018" y="117" width="5" height="6" fill="#0c0c0c"/>
<rect x="1019" y="118" width="3" height="4" fill="#338d78"/>
<rect x="1026" y="103" width="1" height="15" fill="#0c0c0c"/>
<rect x="1024" y="113" width="5" height="4" fill="#0c0c0c"/>
<rect x="1025" y="114" width="3" height="2" fill="#338d78"/>
<rect x="1032" y="107" width="1" height="10" fill="#0c0c0c"/>
<rect x="1030" y="111" width="5" height="3" fill="#0c0c0c"/>
<rect x="1031" y="112" width="3" height="1" fill="#338d78"/>
<rect x="1038" y="100" width="1" height="22" fill="#0c0c0c"/>
<rect x="1036" y="101" width="5" height="11" fill="#0c0c0c"/>
<rect x="1037" y="102" width="3" height="9" fill="#338d78"/>
</g>
<line x1="501" y1="251.4" x2="1086.5" y2="70.8" stroke="#0a0a0a" stroke-width="2.15" stroke-linecap="butt"/>
<line x1="458.3" y1="341" x2="1169.6" y2="131.6" stroke="#0a0a0a" stroke-width="2.15" stroke-linecap="butt"/>
</svg>
<!-- ===== legend ===== -->
<div class="abs" style="left:56px;top:73px;width:104px;height:21px;background:rgba(255,255,255,0.4)"></div>
<div class="abs" style="left:64px;top:49px;width:20px;height:18px;background:#dff0ec;border-radius:9px 0 0 9px"></div>
<div class="abs" style="left:84px;top:49px;width:20px;height:18px;background:#fcdde7;border-radius:0 9px 9px 0"></div>
<div class="abs" style="left:71px;top:54px;width:8px;height:8px;border-radius:50%;background:#149b80"></div>
<div class="t" id="approx" style="left:88px;top:50px;font-size:15px;font-weight:bold;color:#e0409a">≈</div>
<div class="t" id="ohlc" style="left:112px;top:52px;font-size:13px;letter-spacing:-0.28px;word-spacing:3.6px">O24,654.39 H24,840.82 L24,451.57 C24,840.57 +186.18 (+0.76%)</div>
<div class="t" id="ema1" style="left:65.3px;top:77px;font-size:11.6px;letter-spacing:-0.75px">EMA</div>
<div class="t" id="ema1v" style="left:97px;top:76.5px;letter-spacing:-0.12px;font-size:13px;color:#d4515f">23,770.48</div>
<div class="t" id="ema2" style="left:65.3px;top:101px;font-size:11.6px;letter-spacing:-0.75px">EMA</div>
<div class="t" id="ema2v" style="left:97px;top:100.5px;letter-spacing:-0.12px;font-size:13px;color:#4a4fc4">22,001.11</div>
<div class="t" id="vol" style="left:65px;top:123.7px;font-size:13px;letter-spacing:-0.6px">Vol</div>
<div class="t" id="volv" style="left:90.5px;top:123.7px;font-size:13px;letter-spacing:-0.5px;color:#4fa898">818.66 K</div>
<div class="abs" style="left:64px;top:145px;width:29px;height:21px;border:1px solid #dcdde1;border-radius:4px;background:#fff"></div>
<svg class="ico" style="left:73px;top:151px" width="11" height="8" viewBox="0 0 11 8"><path d="M1.5 6 L5.5 2 L9.5 6" fill="none" stroke="#1c1c1c" stroke-width="1.5"/></svg>

<!-- ===== price axis ===== -->
<div class="px" style="top:140.6px">24,000.00</div>
<div class="px" style="top:198px">23,000.00</div>
<div class="px" style="top:366px">20,000.00</div>
<div class="px" style="top:423px">19,000.00</div>
<div class="px" style="top:479px">18,000.00</div>
<div class="px" style="top:535px">17,000.00</div>
<div class="px" style="top:591.6px">16,000.00</div>
<div class="lbl" style="top:76px;height:16.8px;background:#2a62f0">25,000.00</div>
<div class="lbl" style="top:92.6px;height:31.2px;background:#12987c;line-height:15px;padding-top:1px">24,840.57<br><span style="font-weight:normal;color:#c9f3e6">02:24:23</span></div>
<div class="lbl" style="top:153.3px;background:#ea3a4c">23,770.48</div>
<div class="lbl" style="top:181.8px;background:#2a62f0">23,250.00</div>
<div class="lbl" style="top:238.3px;background:#2a62f0">22,250.00</div>
<div class="lbl" style="top:255.3px;background:#2626e2">22,001.11</div>
<div class="lbl" style="top:309.5px;background:#2a62f0">21,000.00</div>
<div class="lbl" style="top:587px;width:58px;height:16.8px;line-height:18.4px;background:#2da59a;letter-spacing:-0.5px">818.66 K</div>

<!-- ===== time axis ===== -->
<div class="mon" style="left:126px">Mar</div>
<div class="mon" style="left:254px">Apr</div>
<div class="mon" style="left:380px">May</div>
<div class="mon" style="left:512px">Jun</div>
<div class="mon" style="left:639px">Jul</div>
<div class="mon" style="left:778px">Aug</div>
<div class="mon" style="left:904px">Sep</div>
<div class="mon" style="left:1037px">Oct</div>
<div class="abs" style="left:56px;top:655px;width:1186px;height:1px;background:#e3e4e8"></div>

<!-- ===== range bar ===== -->
<div class="rng" id="r1D" style="left:70.8px">1D</div>
<div class="rng" id="r5D" style="left:98.2px">5D</div>
<div class="rng" id="r1M" style="left:126.3px;letter-spacing:-1.3px">1M</div>
<div class="rng" id="r3M" style="left:154.8px;letter-spacing:-1.3px">3M</div>
<div class="rng" id="r6M" style="left:183.7px;letter-spacing:-1.3px">6M</div>
<div class="rng" id="rYTD" style="left:213.0px">YTD</div>
<div class="rng" id="r1Y" style="left:250.4px">1Y</div>
<div class="rng" id="r5Y" style="left:278.0px">5Y</div>
<div class="rng" id="rAll" style="left:304.4px;letter-spacing:0.6px">All</div>
<div class="abs" style="left:332px;top:664.5px;width:1px;height:22px;background:#e4e5e9"></div>
<div class="rng" id="utc" style="left:1148.6px;letter-spacing:-0.14px">18:35:36 UTC</div>

<!-- ===== bottom panel ===== -->
<div class="t" id="pine" style="left:72px;top:710px;font-size:14px">Pine Editor</div>
<div class="t" id="tpanel" style="left:173px;letter-spacing:-0.25px;top:710px;font-size:14px">Trading Panel</div>

<!-- ===== top toolbar ===== -->
<div class="abs" style="left:13px;top:6px;width:26px;height:26px;border-radius:50%;background:#a67c62"></div>
<div class="t" id="avT" style="left:20.5px;top:10.5px;font-size:17px;color:#fff;width:10px;text-align:center">T</div>
<div class="abs" style="left:31px;top:0.5px;width:20px;height:20px;border-radius:50%;background:#e43b4f;border:1.5px solid #fff"></div>
<div class="t" id="badge" style="left:35px;top:5px;font-size:11px;font-weight:bold;color:#fff;letter-spacing:-0.3px">11</div>
<svg class="ico" style="left:60px;top:8px" width="22" height="22" viewBox="60 8 22 22"><circle cx="69.7" cy="17.8" r="5.1" fill="none" stroke="#161616" stroke-width="1.7"/><path d="M73.4 21.5 L77.6 25.3" stroke="#161616" stroke-width="1.6" stroke-linecap="round"/></svg>
<div class="t" id="sym" style="left:84px;top:12.5px;font-size:13px;font-weight:bold;color:#111">NAS100</div>
<svg class="ico" style="left:158px;top:7px" width="25" height="25" viewBox="158 7 25 25"><circle cx="170.4" cy="19.4" r="9.3" fill="none" stroke="#161616" stroke-width="1.2"/><path d="M165.4 19.4 H175.4 M170.4 14.4 V24.4" stroke="#161616" stroke-width="1.2"/></svg>
<div class="sep" style="left:194px"></div>
<div class="t" id="tfD" style="left:213px;top:12px;font-size:14px">D</div>
<div class="sep" style="left:240px"></div>
<svg class="ico" style="left:255px;top:7px" width="20" height="25" viewBox="255 7 20 25" fill="none" stroke="#161616" stroke-width="1.2"><path d="M260.5 9 V12.7 M260.5 25.6 V28.7 M268.7 11.6 V15.2 M268.7 22.9 V25.6"/><rect x="258.2" y="12.7" width="4.7" height="12.9"/><rect x="266.5" y="15.2" width="4.4" height="7.7"/></svg>
<div class="sep" style="left:287px"></div>
<svg class="ico" style="left:300px;top:7px" width="24" height="24" viewBox="300 7 24 24" fill="none" stroke="#161616" stroke-width="1.2" stroke-linejoin="round"><path d="M303.4 16.3 L308.9 11.6 L313.5 14.7 L320.2 10"/><rect x="303.4" y="23.2" width="4.6" height="3.9"/><rect x="309.4" y="20.9" width="4.6" height="6.2"/><rect x="315.4" y="17.4" width="4.4" height="9.7"/></svg>
<div class="t" id="indic" style="left:329.5px;top:12px;font-size:14px">Indicators</div>
<svg class="ico" style="left:405px;top:12px" width="16" height="12" viewBox="405 12 16 12"><path d="M409.3 17.4 L413.3 20.6 L417.2 17.4" fill="none" stroke="#161616" stroke-width="1.2"/></svg>
<svg class="ico" style="left:433px;top:8px" width="22" height="22" viewBox="433 8 22 22" fill="none" stroke="#161616" stroke-width="1.2"><rect x="436" y="11.6" width="6.9" height="5.8" rx="1.6"/><rect x="445.3" y="11.6" width="6.9" height="5.8" rx="1.6"/><rect x="436" y="20.2" width="6.9" height="5.8" rx="1.6"/><rect x="445.3" y="20.2" width="6.9" height="5.8" rx="1.6"/></svg>
<div class="sep" style="left:467px"></div>
<svg class="ico" style="left:478px;top:6px" width="26" height="26" viewBox="478 6 26 26" fill="none" stroke="#161616" stroke-width="1.2" stroke-linecap="round"><path d="M498.7 20.6 A8.5 8.5 0 1 0 489.6 27.9"/><path d="M490.3 15.5 V19.8 H487.6"/><path d="M481 13.6 L484.8 10.2 M495.6 10.2 L499.6 13.6"/><path d="M491.8 25.6 H500.2 M496 21.4 V29.8"/></svg>
<div class="t" id="alert" style="left:509px;top:12px;font-size:14px;letter-spacing:0.2px">Alert</div>
<svg class="ico" style="left:559px;top:11px" width="20" height="18" viewBox="559 11 20 18" fill="none" stroke="#161616" stroke-width="1.2" stroke-linejoin="round"><path d="M562.3 19.8 L568.3 14.8 V24.8 Z"/><path d="M569.8 19.8 L576.2 14.8 V24.8 Z"/></svg>
<div class="t" id="replay" style="left:587.5px;top:12px;font-size:14px;letter-spacing:-0.45px">Replay</div>
<div class="sep" style="left:642px"></div>
<svg class="ico" style="left:655px;top:10px" width="20" height="18" viewBox="655 10 20 18" fill="none" stroke="#161616" stroke-width="1.2" stroke-linecap="round" stroke-linejoin="round"><path d="M663.4 14.3 L659.2 18.3 L663.4 22.2"/><path d="M659.4 18.3 H667.6 Q671.3 18.8 671.6 24"/></svg>
<svg class="ico" style="left:693px;top:10px" width="20" height="18" viewBox="693 10 20 18" fill="none" stroke="#b4b4b4" stroke-width="1.2" stroke-linecap="round" stroke-linejoin="round"><path d="M705.8 14.3 L710 18.3 L705.8 22.2"/><path d="M709.8 18.3 H701.2 Q697.5 18.8 697.2 24"/></svg>
<svg class="ico" style="left:927px;top:8px" width="25" height="23" viewBox="927 8 25 23"><rect x="930.2" y="11.3" width="18.8" height="16.3" rx="2.6" fill="none" stroke="#161616" stroke-width="1.4"/></svg>
<div class="t" id="unnamed" style="left:964px;top:7px;font-size:14px;letter-spacing:-0.5px">Unnamed</div>
<div class="t" id="save" style="left:982.5px;top:22px;font-size:10px;letter-spacing:-0.3px;color:#3a62c8">Save</div>
<svg class="ico" style="left:1032px;top:12px" width="16" height="12" viewBox="1032 12 16 12"><path d="M1036.5 17 L1040.2 20.2 L1043.9 17" fill="none" stroke="#161616" stroke-width="1.2"/></svg>
<div class="sep" style="left:1056px"></div>
<svg class="ico" style="left:1066px;top:5px" width="26" height="27" viewBox="1066 5 26 27" fill="none" stroke="#161616" stroke-width="1.2" stroke-linejoin="round" stroke-linecap="round"><path d="M1076.8 12.6 A7 7 0 1 0 1085 21.5"/><path d="M1083.3 24.2 L1088.6 28.6"/><path d="M1082.6 8.2 L1078.3 15.7 H1081.9 L1081.1 20.4 L1085.5 13.2 H1081.9 Z"/></svg>
<svg class="ico" style="left:1105px;top:7px" width="26" height="24" viewBox="1105 7 26 24" fill="none" stroke="#161616" stroke-width="1.2" stroke-linejoin="round"><path d="M1108 19 L1113 10.6 H1123.2 L1128.2 19 L1123.2 27.5 H1113 Z"/><circle cx="1118.1" cy="19" r="3.4"/></svg>
<svg class="ico" style="left:1145px;top:8px" width="22" height="22" viewBox="1145 8 22 22" fill="none" stroke="#161616" stroke-width="1.2" stroke-linecap="round"><path d="M1148 15.5 V13.2 Q1148 11.2 1150 11.2 H1152.4 M1159.4 11.2 H1161.8 Q1163.8 11.2 1163.8 13.2 V15.5 M1163.8 22.3 V24.6 Q1163.8 26.6 1161.8 26.6 H1159.4 M1152.4 26.6 H1150 Q1148 26.6 1148 24.6 V22.3"/></svg>
<svg class="ico" style="left:1181px;top:8px" width="26" height="22" viewBox="1181 8 26 22" fill="none" stroke="#161616" stroke-width="1.2" stroke-linejoin="round"><path d="M1185.6 13.2 H1188.6 L1190 10.6 H1197.3 L1198.7 13.2 H1201.6 Q1203.6 13.2 1203.6 15.2 V24.3 Q1203.6 26.3 1201.6 26.3 H1185.6 Q1183.6 26.3 1183.6 24.3 V15.2 Q1183.6 13.2 1185.6 13.2 Z"/><circle cx="1193.6" cy="19.4" r="3.6"/></svg>
<div class="abs" style="left:1217px;top:5px;width:69px;height:28px;border-radius:14px;background:#2b2b2b"></div>
<div class="t" id="publish" style="left:1229.5px;top:12px;font-size:13.5px;font-weight:bold;color:#fff;letter-spacing:-0.75px">Publish</div>

<!-- ===== left toolbar ===== -->
<div class="abs" style="left:9px;top:50px;width:34px;height:34px;border-radius:7px;background:#ececec"></div>
<svg class="ico" style="left:0;top:42px" width="52" height="694" viewBox="0 42 52 694" fill="none" stroke="#161616" stroke-width="1.2" stroke-linejoin="round" stroke-linecap="round">
<!-- cursor -->
<path d="M19.2 59.8 V73.6 L22.6 70.6 L25.6 76.2 L28.6 74.6 L25.8 69.2 L30.4 68.2 Z" stroke-width="1.4"/>
<!-- trend line -->
<path d="M18.9 112.1 L32.9 97.7"/><circle cx="17.4" cy="113.6" r="2.1"/><circle cx="34.3" cy="96.2" r="2.1"/>
<!-- fib lines -->
<path d="M14.8 133.1 H36.5 M14.8 139.2 H34.2 M14.8 145.5 H36.5 M17.7 151.2 H36.5"/><circle cx="36.3" cy="139.2" r="2.1"/><circle cx="15.6" cy="151.2" r="2.1"/>
<!-- pattern -->
<g stroke-width="1.1"><path d="M20.2 172.3 L25 179.9 L17.4 189.2 Z M25 179.9 L32.2 173.8 L35.4 186.4 Z"/></g>
<g fill="#fff"><circle cx="20.2" cy="172.3" r="2.1"/><circle cx="32.2" cy="173.8" r="2.1"/><circle cx="25" cy="179.9" r="2.1"/><circle cx="17.4" cy="189.2" r="2.1"/><circle cx="35.4" cy="186.4" r="2.1"/></g>
<!-- forecast -->
<path d="M18.4 210.9 H36 M18.4 221.3 H32.2 M18.4 227.2 H36"/><path d="M19 219.6 L34.8 212.6" stroke-dasharray="1 2.2"/>
<g fill="#fff"><circle cx="16.3" cy="210.9" r="2.1"/><circle cx="16.3" cy="221.3" r="2.1"/><circle cx="34.3" cy="221.3" r="2.1"/><circle cx="16.3" cy="227.2" r="2.1"/></g>
<!-- brush -->
<path d="M14.8 264.8 Q18.5 257 23.5 256 Q28.5 255.4 29.6 258.8 Q30 263.6 25 264.6 Z"/><path d="M29.3 251.6 Q29.8 256.6 33.4 255.2 Q36.6 253 39.6 249.6"/>
<!-- text T -->
<path d="M19.1 289.4 V286.5 H34.3 V289.4 M26.6 286.5 V303.3 M23.8 303.3 H29.4"/>
<!-- smiley -->
<circle cx="26.1" cy="332.6" r="10.3"/><path d="M22.6 335 Q26.1 339.2 29.6 335"/><circle cx="22.9" cy="330.2" r="0.7" fill="#161616"/><circle cx="29.1" cy="330.2" r="0.7" fill="#161616"/>
<!-- ruler -->
<path d="M14.1 390.4 L32.6 372.6 L37.4 377.8 L19.1 395.9 Z"/><path d="M17.6 387 L19.6 389.1 M20.8 384 L23.4 386.7 M24 380.9 L26 383 M27.2 377.8 L29.8 380.5 M30.4 374.7 L32.4 376.8" stroke-width="1"/>
<!-- zoom -->
<circle cx="25" cy="420.4" r="8.3"/><path d="M21 420.4 H29 M25 416.4 V424.4 M30.9 426.3 L34.6 430"/>
<!-- magnet -->
<path d="M17.8 481.3 V471.6 A8.25 8.25 0 0 1 34.3 471.6 V481.3 H29.3 V471.6 A3.25 3.25 0 0 0 22.8 471.6 V481.3 Z M17.8 477.4 H22.8 M29.3 477.4 H34.3"/>
<!-- pencil lock -->
<path d="M15 514.4 L16.2 509.3 L26.6 499.8 Q28.6 498.6 30.2 500.4 Q31.8 502.2 30.6 504 L20.2 513.6 Z M24.6 501.6 L28.6 505.8" />
<rect x="27.8" y="515.4" width="8" height="6" rx="1" fill="#fff"/><path d="M29.6 515.4 V513.6 A2.2 2.2 0 0 1 33.8 512.8"/><circle cx="31.8" cy="518.4" r="0.6" fill="#161616"/>
<!-- lock open -->
<rect x="18.5" y="548.2" width="15.5" height="10.6" rx="2"/><path d="M22 548.2 V545 A4.4 4.4 0 0 1 30.6 544.2"/><path d="M26.2 552 V554.4" stroke-width="1.8"/>
<!-- eye -->
<path d="M15.7 582.8 Q19.6 576.6 25.1 576.6 Q30.6 576.6 34.6 582.8 Q30.6 589.2 25.1 589.2 Q19.6 589.2 15.7 582.8 Z"/><circle cx="25.1" cy="582.8" r="3.1"/>
<path d="M28 596.4 Q29 593.6 32 593.4 Q33.6 594.6 32 596 Z M33.6 592 Q34.6 593.6 36.4 591.8" stroke-width="1"/>
<!-- trash -->
<path d="M17.3 631 H34.6 M23.1 631 V629.4 Q23.1 628.2 24.3 628.2 H27.7 Q28.9 628.2 28.9 629.4 V631 M18.9 631.3 L20.6 645.2 Q20.9 647 22.7 647 H29.4 Q31.2 647 31.5 645.2 L33 631.3"/>
</svg>
<div class="abs" style="left:8px;top:358px;width:36px;height:1px;background:#e4e5e9"></div>
<div class="abs" style="left:8px;top:447px;width:36px;height:1px;background:#e4e5e9"></div>
<div class="abs" style="left:8px;top:612px;width:36px;height:1px;background:#e4e5e9"></div>

<!-- ===== right toolbar ===== -->
<svg class="ico" style="left:1246px;top:42px" width="45" height="694" viewBox="1246 42 45 694" fill="none" stroke="#161616" stroke-width="1.2" stroke-linejoin="round" stroke-linecap="round">
<!-- watchlist -->
<path d="M1259.6 54.8 H1279.2 V77.6 L1269.4 73 L1259.6 77.6 Z"/><path d="M1263.7 60.8 H1275 M1263.7 64.7 H1275 M1263.7 68.5 H1275"/>
<!-- alarm -->
<circle cx="1269.4" cy="111.6" r="10.3"/><path d="M1269.4 105.6 V113 H1264.8"/><path d="M1257.2 104.4 L1262.2 100 M1276.6 100 L1281.6 104.4"/>
<!-- layers -->
<path d="M1257.8 155.5 L1268.9 149.3 L1280.2 155.5 L1268.9 161.6 Z"/><path d="M1257.8 160.4 L1268.9 166.6 L1280.2 160.4"/>
<!-- chat -->
<path d="M1266.8 209 H1262.4 L1257.8 212.8 V195.7 Q1257.8 193.7 1259.8 193.7 H1273.8 Q1275.8 193.7 1275.8 195.7 V201.4"/><path d="M1266.8 203.4 Q1266.8 201.5 1268.8 201.5 H1279 Q1281 201.5 1281 203.5 V216.2 L1276.6 212 H1268.8 Q1266.8 212 1266.8 210 Z" fill="#fff"/>
<!-- target -->
<circle cx="1269" cy="517" r="13.5"/><circle cx="1269" cy="517" r="7.8"/><circle cx="1269" cy="517" r="1.9" fill="#161616"/><path d="M1269 517 L1278.3 507.5"/>
<!-- calendar -->
<rect x="1257.3" y="553.8" width="23.6" height="20.8" rx="3"/><path d="M1257.3 560.5 H1280.9"/><rect x="1261.5" y="551.4" width="2.6" height="4.8" rx="1.1" fill="#fff"/><rect x="1274" y="551.4" width="2.6" height="4.8" rx="1.1" fill="#fff"/>
<!-- apps -->
<circle cx="1268.8" cy="607.7" r="16" fill="#232323" stroke="none"/>
<g fill="#fff" stroke="none"><rect x="1260.3" y="599.2" width="4.2" height="4.2"/><rect x="1266.7" y="599.2" width="4.2" height="4.2"/><rect x="1273.1" y="599.2" width="4.2" height="4.2"/><rect x="1260.3" y="605.6" width="4.2" height="4.2"/><rect x="1266.7" y="605.6" width="4.2" height="4.2"/><rect x="1273.1" y="605.6" width="4.2" height="4.2"/><rect x="1260.3" y="612" width="4.2" height="4.2"/><rect x="1266.7" y="612" width="4.2" height="4.2"/><rect x="1273.1" y="612" width="4.2" height="4.2"/></g>
<!-- signal -->
<circle cx="1260" cy="673.6" r="1.7"/><path d="M1259.6 666.8 A7 7 0 0 1 1267 674.8 M1259.2 660.6 A13.2 13.2 0 0 1 1273.4 674.8 M1258.8 654.4 A19.4 19.4 0 0 1 1279.6 674.8"/>
<!-- help -->
<path d="M1277.2 701.2 A13.4 13.4 0 0 0 1256.4 716.6 M1261.4 723 A13.4 13.4 0 0 0 1282 708"/>
<path d="M1280.3 697.6 Q1280.8 701.4 1284.6 702 Q1280.8 702.6 1280.3 706.4 Q1279.8 702.6 1276 702 Q1279.8 701.4 1280.3 697.6 Z" stroke-width="1"/>
<path d="M1257.2 716.4 Q1257.6 719.2 1260.4 719.7 Q1257.6 720.2 1257.2 723 Q1256.8 720.2 1254 719.7 Q1256.8 719.2 1257.2 716.4 Z" stroke-width="1"/>
<path d="M1265.2 707.2 Q1265.6 704.4 1268.9 704.4 Q1272.4 704.6 1272.4 707.4 Q1272.4 709.2 1270.4 710.6 Q1269 711.8 1269 714.2" stroke-width="1.2"/>
<circle cx="1269" cy="717.8" r="1.4" stroke-width="1.1"/>
</svg>
<div class="abs" style="left:1253px;top:637px;width:32px;height:1px;background:#e4e5e9"></div>

<!-- ===== bottom/time icons ===== -->
<svg class="ico" style="left:56px;top:600px" width="1186" height="136" viewBox="56 600 1186 136" fill="none" stroke="#161616" stroke-width="1.2" stroke-linejoin="round" stroke-linecap="round">
<!-- axis settings hex -->
<path d="M1198.9 641.3 L1202.6 635 H1210.2 L1213.9 641.3 L1210.2 647.7 H1202.6 Z" stroke-width="1.2"/><circle cx="1206.4" cy="641.3" r="2.2" stroke-width="1.2"/>
<!-- goto date -->
<path d="M347.5 673.4 V669.5 Q347.5 667.3 349.7 667.3 H362.4 Q364.6 667.3 364.6 669.5 V680.2 Q364.6 682.4 362.4 682.4 H356.4"/><path d="M347.5 671.3 H364.6 M352.4 665.2 V668.7 M359.4 665.2 V668.7"/><path d="M346.2 679.4 H353.4 M350.2 676.2 L353.7 679.4 L350.2 682.7"/>
<!-- collapse chevron -->
<path d="M1179 719.6 L1187.6 712.3 L1196.4 719.6" stroke-width="1.25"/>
<!-- maximize -->
<path d="M1215.2 714.2 V712.4 Q1215.2 710.2 1217.4 710.2 H1228.8 Q1231 710.2 1231 712.4 V714.2 M1231 720.2 V722 Q1231 724.2 1228.8 724.2 H1217.4 Q1215.2 724.2 1215.2 722 V720.2" stroke-width="1.25"/>
</svg>

<!-- ===== logo + events ===== -->
<svg class="ico" style="left:60px;top:570px" width="1010" height="60" viewBox="60 570 1010 60">
<g stroke="#fff" stroke-width="3.4" stroke-linejoin="round" fill="#fff"><path d="M68.1 598.2 H80.2 V612.2 H73.9 V603.8 H68.1 Z"/><circle cx="85.1" cy="600.7" r="2.5"/><path d="M89.8 598.2 H97.4 L91.2 612.2 H84.4 Z"/>
<text x="102.4" y="612.4" font-family="'Liberation Sans','DejaVu Sans',sans-serif" font-weight="bold" font-size="20.5" letter-spacing="0.42">TradingView</text></g>
<g fill="#131313"><path d="M68.1 598.2 H80.2 V612.2 H73.9 V603.8 H68.1 Z"/><circle cx="85.1" cy="600.7" r="2.5"/><path d="M89.8 598.2 H97.4 L91.2 612.2 H84.4 Z"/>
<text x="102.4" y="612.4" font-family="'Liberation Sans','DejaVu Sans',sans-serif" font-weight="bold" font-size="20.5" letter-spacing="0.42">TradingView</text></g>
<!-- lightning -->
<circle cx="1038.5" cy="589.2" r="9.6" fill="#fff" stroke="#7b31bf" stroke-width="1.5"/>
<path d="M1040.5 584.4 L1035.3 589.9 H1038.8 L1036.2 594.6 L1042.6 588.2 H1038.8 Z" fill="#7b31bf"/>
<circle cx="1045.6" cy="582.6" r="3.2" fill="#fff"/><circle cx="1045.6" cy="582.6" r="2.4" fill="#d43a4a"/>
<!-- flags -->
<defs><clipPath id="f1"><circle cx="1050.8" cy="613.6" r="7.9"/></clipPath><clipPath id="f2"><circle cx="1037.5" cy="613.6" r="7.9"/></clipPath></defs>
<circle cx="1050.8" cy="613.6" r="10" fill="#fff" stroke="#cf4753" stroke-width="1.2"/>
<g clip-path="url(#f1)"><rect x="1042" y="605" width="18" height="18" fill="#fbeaea"/><rect x="1042" y="605.6" width="18" height="2.2" fill="#e0574f"/><rect x="1042" y="610" width="18" height="2.2" fill="#e0574f"/><rect x="1042" y="614.4" width="18" height="2.2" fill="#e0574f"/><rect x="1042" y="618.8" width="18" height="2.6" fill="#e0574f"/><rect x="1042" y="605" width="9.6" height="9.4" fill="#4f86e0"/></g>
<circle cx="1037.5" cy="613.6" r="10" fill="#fff" stroke="#cf4753" stroke-width="1.2"/>
<g clip-path="url(#f2)"><rect x="1029" y="605" width="18" height="18" fill="#fbeaea"/><rect x="1029" y="605.6" width="18" height="2.2" fill="#e0574f"/><rect x="1029" y="610" width="18" height="2.2" fill="#e0574f"/><rect x="1029" y="614.4" width="18" height="2.2" fill="#e0574f"/><rect x="1029" y="618.8" width="18" height="2.6" fill="#e0574f"/><rect x="1029" y="605" width="10.4" height="9.4" fill="#4f86e0"/></g>
</svg>

<!-- window corners -->
<div class="abs" style="left:0;top:729px;width:7px;height:7px;background:radial-gradient(circle at 100% 0,rgba(74,6,48,0) 5.6px,rgba(244,214,236,1) 6px,#4a0630 7px)"></div>
<div class="abs" style="left:1284px;top:729px;width:7px;height:7px;background:radial-gradient(circle at 0 0,rgba(74,6,48,0) 5.6px,rgba(244,214,236,1) 6px,#4a0630 7px)"></div>

</body></html>
